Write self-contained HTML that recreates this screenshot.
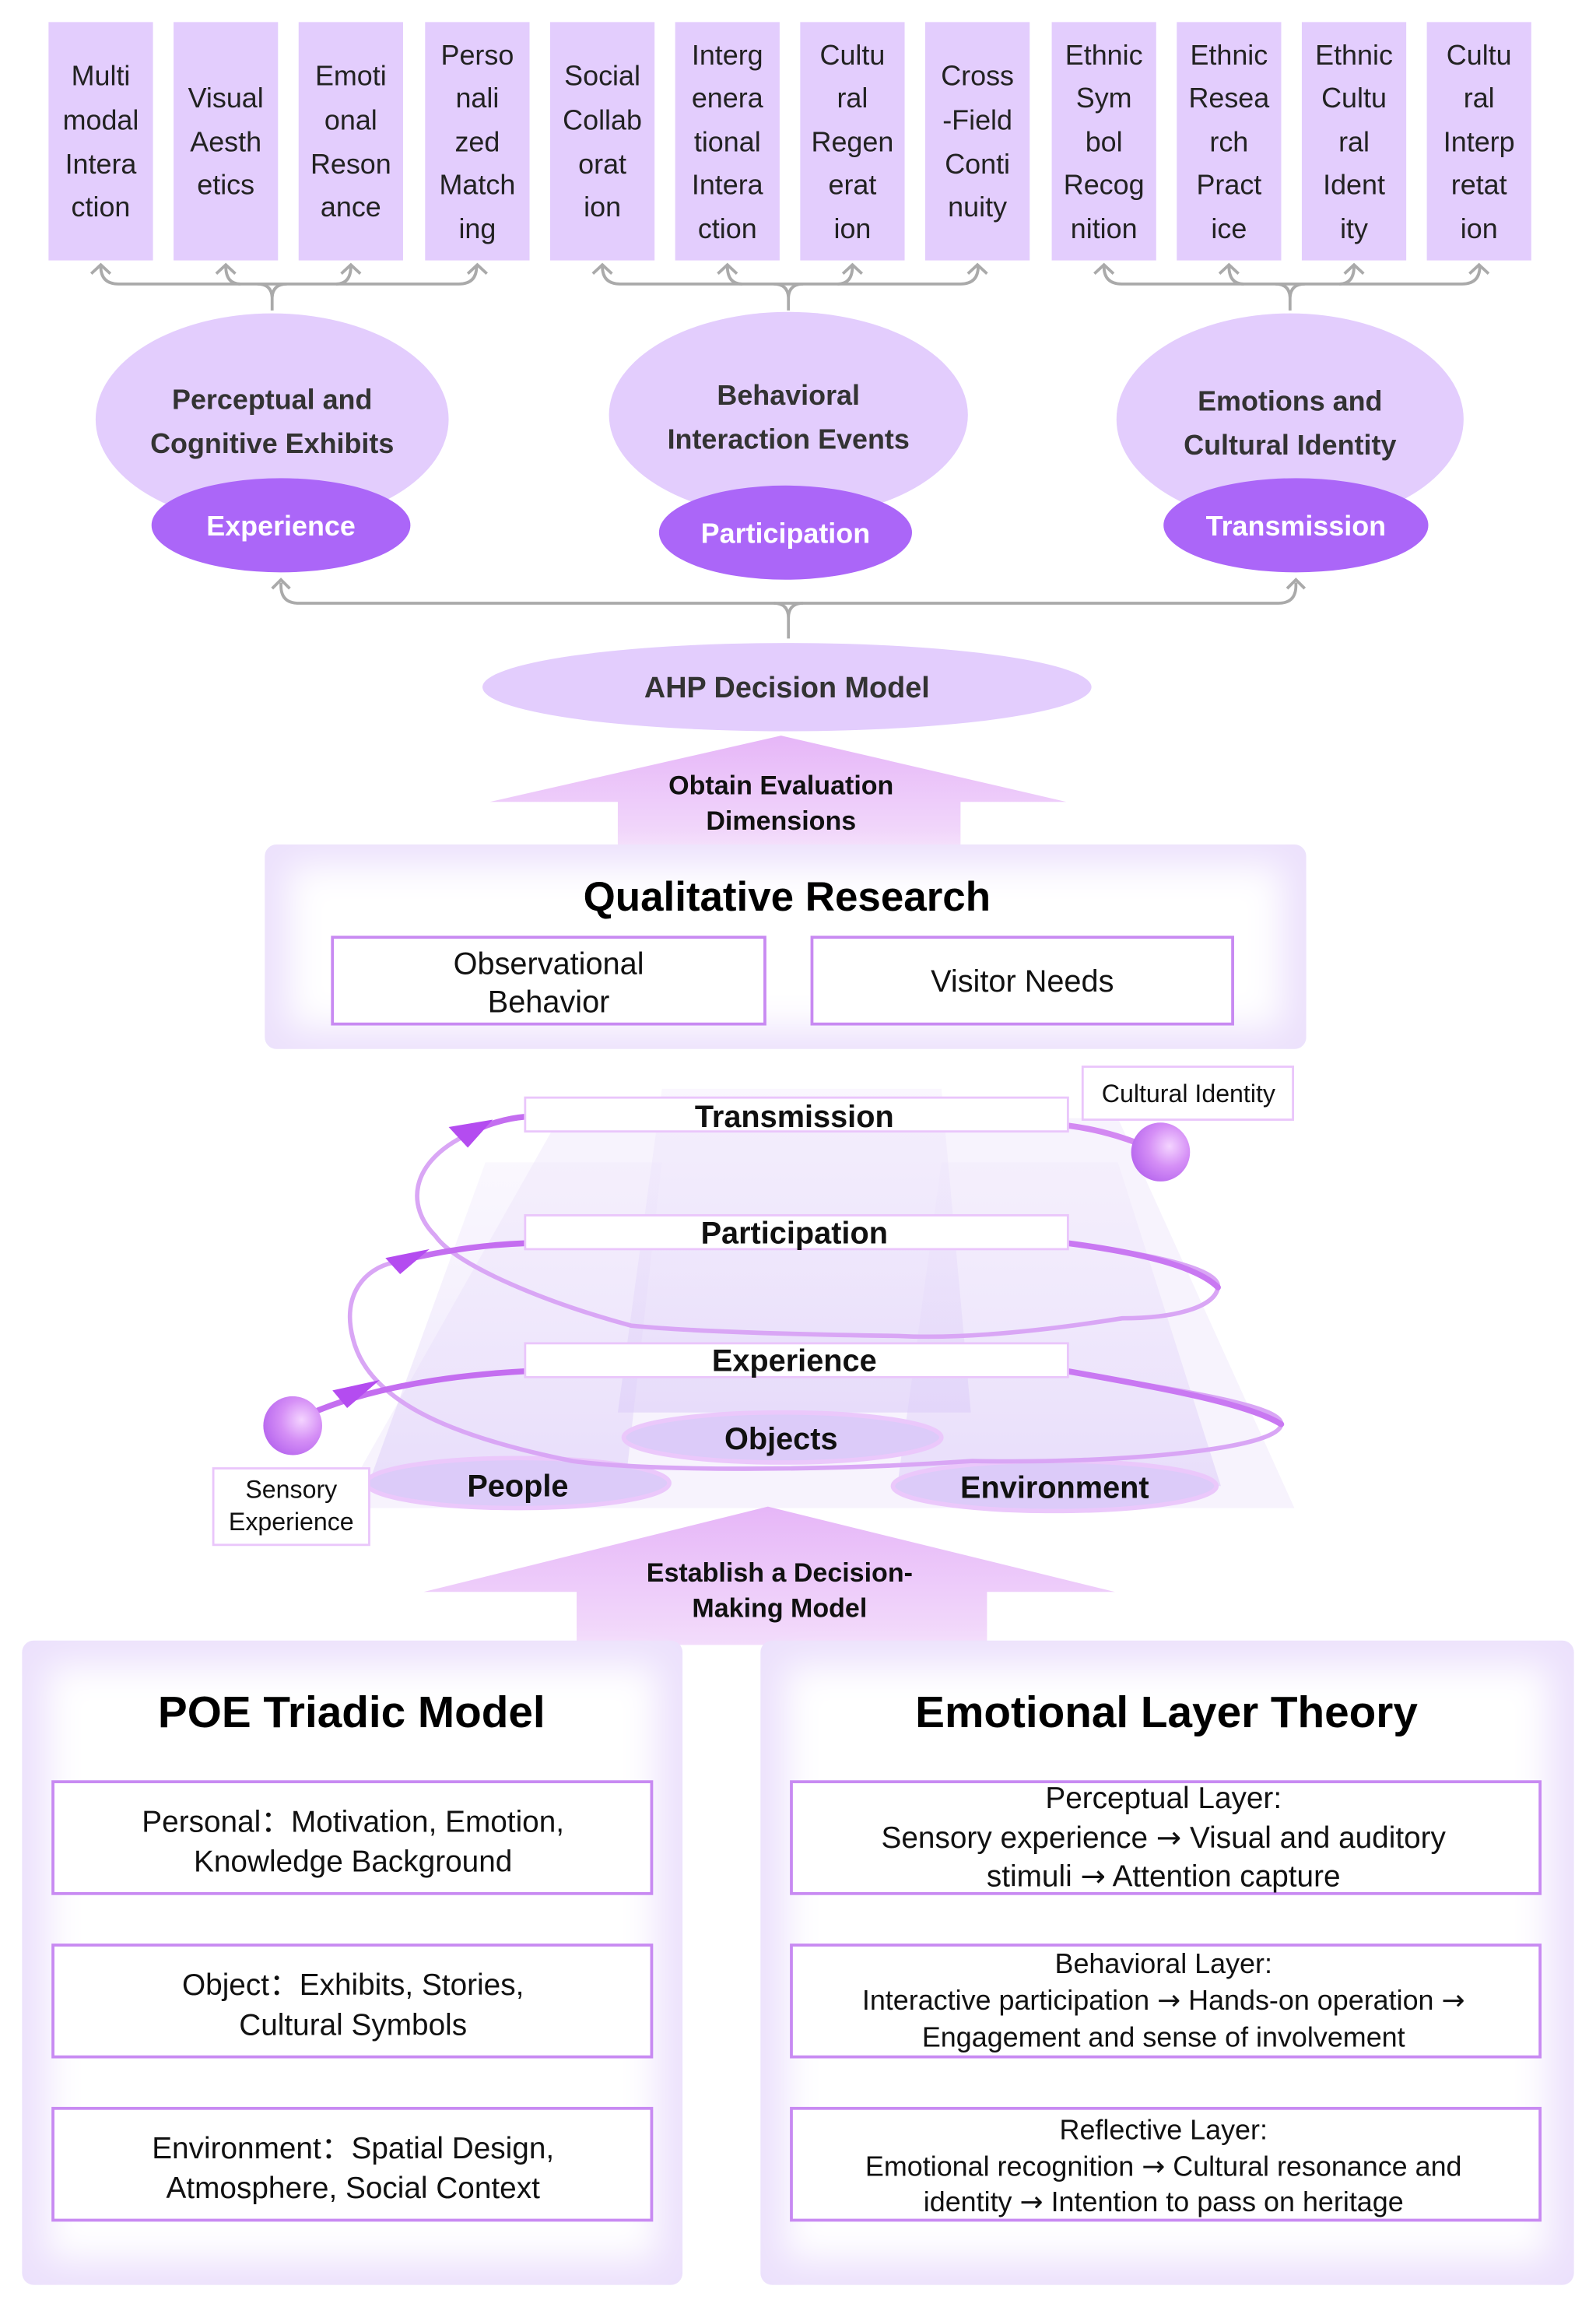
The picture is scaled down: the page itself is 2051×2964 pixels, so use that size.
<!DOCTYPE html>
<html><head><meta charset="utf-8"><style>html,body{margin:0;padding:0;background:#fff}svg{display:block}text{font-family:"Liberation Sans",sans-serif}.ar{font-family:"DejaVu Sans",sans-serif}</style></head><body>
<svg width="2051" height="2964" viewBox="0 0 1085 1568" xmlns="http://www.w3.org/2000/svg">
<defs>
<linearGradient id="arr" x1="0" y1="0" x2="0" y2="1"><stop offset="0" stop-color="#e6b6f8"/><stop offset="1" stop-color="#f3dcfb"/></linearGradient>
<filter id="blur" x="-20%" y="-20%" width="140%" height="140%"><feGaussianBlur stdDeviation="12"/></filter>
<radialGradient id="sph" cx="0.65" cy="0.4" r="0.7"><stop offset="0" stop-color="#f4d4ff"/><stop offset="0.5" stop-color="#d58ff6"/><stop offset="1" stop-color="#b665ee"/></radialGradient>
<linearGradient id="beam" x1="0" y1="0" x2="0" y2="1"><stop offset="0" stop-color="#ede4fb" stop-opacity="0.5"/><stop offset="1" stop-color="#d9c8f8" stop-opacity="0.9"/></linearGradient>
</defs>
<rect width="1085" height="1568" fill="#fff"/>

<g fill="#e3cdfd">
<rect x="33" y="15" width="71" height="162"/><rect x="118" y="15" width="71" height="162"/><rect x="203" y="15" width="71" height="162"/><rect x="289" y="15" width="71" height="162"/><rect x="374" y="15" width="71" height="162"/><rect x="459" y="15" width="71" height="162"/><rect x="544" y="15" width="71" height="162"/><rect x="629" y="15" width="71" height="162"/><rect x="715" y="15" width="71" height="162"/><rect x="800" y="15" width="71" height="162"/><rect x="885" y="15" width="71" height="162"/><rect x="970" y="15" width="71" height="162"/>
</g>
<g font-size="19" fill="#222" text-anchor="middle">
<text x="68.5" y="58">Multi</text><text x="68.5" y="88">modal</text><text x="68.5" y="118">Intera</text><text x="68.5" y="147">ction</text>
<text x="153.5" y="73">Visual</text><text x="153.5" y="103">Aesth</text><text x="153.5" y="132">etics</text>
<text x="238.5" y="58">Emoti</text><text x="238.5" y="88">onal</text><text x="238.5" y="118">Reson</text><text x="238.5" y="147">ance</text>
<text x="324.5" y="44">Perso</text><text x="324.5" y="73">nali</text><text x="324.5" y="103">zed</text><text x="324.5" y="132">Match</text><text x="324.5" y="162">ing</text>
<text x="409.5" y="58">Social</text><text x="409.5" y="88">Collab</text><text x="409.5" y="118">orat</text><text x="409.5" y="147">ion</text>
<text x="494.5" y="44">Interg</text><text x="494.5" y="73">enera</text><text x="494.5" y="103">tional</text><text x="494.5" y="132">Intera</text><text x="494.5" y="162">ction</text>
<text x="579.5" y="44">Cultu</text><text x="579.5" y="73">ral</text><text x="579.5" y="103">Regen</text><text x="579.5" y="132">erat</text><text x="579.5" y="162">ion</text>
<text x="664.5" y="58">Cross</text><text x="664.5" y="88">-Field</text><text x="664.5" y="118">Conti</text><text x="664.5" y="147">nuity</text>
<text x="750.5" y="44">Ethnic</text><text x="750.5" y="73">Sym</text><text x="750.5" y="103">bol</text><text x="750.5" y="132">Recog</text><text x="750.5" y="162">nition</text>
<text x="835.5" y="44">Ethnic</text><text x="835.5" y="73">Resea</text><text x="835.5" y="103">rch</text><text x="835.5" y="132">Pract</text><text x="835.5" y="162">ice</text>
<text x="920.5" y="44">Ethnic</text><text x="920.5" y="73">Cultu</text><text x="920.5" y="103">ral</text><text x="920.5" y="132">Ident</text><text x="920.5" y="162">ity</text>
<text x="1005.5" y="44">Cultu</text><text x="1005.5" y="73">ral</text><text x="1005.5" y="103">Interp</text><text x="1005.5" y="132">retat</text><text x="1005.5" y="162">ion</text>
</g>

<g fill="none" stroke="#aaa" stroke-width="2">
<path d="M68.5,181 q0,12 12,12 H312 q12,0 12,-12"/><path d="M153.5,181 q0,12 10,12"/><path d="M238.5,181 q0,12 -10,12"/><path d="M175,193 q10,0 10,10 v8 M195,193 q-10,0 -10,10"/>
<path d="M409.5,181 q0,12 12,12 H653 q12,0 12,-12"/><path d="M494.5,181 q0,12 10,12"/><path d="M579.5,181 q0,12 -10,12"/><path d="M526,193 q10,0 10,10 v8 M546,193 q-10,0 -10,10"/>
<path d="M750.5,181 q0,12 12,12 H994 q12,0 12,-12"/><path d="M835.5,181 q0,12 10,12"/><path d="M920.5,181 q0,12 -10,12"/><path d="M867,193 q10,0 10,10 v8 M887,193 q-10,0 -10,10"/>
<path d="M191,396 v2 q0,12 12,12 H869 q12,0 12,-12 v-2"/><path d="M526,410 q10,0 10,10 v14 M546,410 q-10,0 -10,10"/>
<path d="M62,186 l6.5,-6 6.5,6 M147,186 l6.5,-6 6.5,6 M232,186 l6.5,-6 6.5,6 M318,186 l6.5,-6 6.5,6 M403,186 l6.5,-6 6.5,6 M488,186 l6.5,-6 6.5,6 M573,186 l6.5,-6 6.5,6 M658,186 l6.5,-6 6.5,6 M744,186 l6.5,-6 6.5,6 M829,186 l6.5,-6 6.5,6 M914,186 l6.5,-6 6.5,6 M999,186 l6.5,-6 6.5,6 M185,400 l6,-6 6,6 M875,400 l6,-6 6,6"/>
</g>

<ellipse cx="185" cy="285" rx="120" ry="72" fill="#e3cdfd"/>
<ellipse cx="536" cy="282" rx="122" ry="70" fill="#e3cdfd"/>
<ellipse cx="877" cy="285" rx="118" ry="72" fill="#e3cdfd"/>
<ellipse cx="191" cy="357" rx="88" ry="32" fill="#ab66f8"/>
<ellipse cx="534" cy="362" rx="86" ry="32" fill="#ab66f8"/>
<ellipse cx="881" cy="357" rx="90" ry="32" fill="#ab66f8"/>
<g font-size="19" font-weight="bold" fill="#333" text-anchor="middle">
<text x="185" y="278">Perceptual and</text><text x="185" y="308">Cognitive Exhibits</text>
<text x="536" y="275">Behavioral</text><text x="536" y="305">Interaction Events</text>
<text x="877" y="279">Emotions and</text><text x="877" y="309">Cultural Identity</text>
</g>
<g font-size="19" font-weight="bold" fill="#fff" text-anchor="middle">
<text x="191" y="364">Experience</text><text x="534" y="369">Participation</text><text x="881" y="364">Transmission</text>
</g>

<ellipse cx="535" cy="467" rx="207" ry="30" fill="#e3cdfd"/>
<text x="535" y="474" font-size="20" font-weight="bold" fill="#333" text-anchor="middle">AHP Decision Model</text>

<polygon points="531,500 725,545 653,545 653,576 420,576 420,545 333,545" fill="url(#arr)"/>
<text x="531" y="540" font-size="18" font-weight="bold" fill="#111" text-anchor="middle">Obtain Evaluation</text>
<text x="531" y="564" font-size="18" font-weight="bold" fill="#111" text-anchor="middle">Dimensions</text>

<rect x="180" y="574" width="708" height="139" rx="8" fill="#ece1fc"/>
<rect x="196" y="588" width="676" height="111" rx="6" fill="#fff" filter="url(#blur)"/>
<text x="535" y="619" font-size="28" font-weight="bold" fill="#000" text-anchor="middle">Qualitative Research</text>
<rect x="226" y="637" width="294" height="59" fill="#fff" stroke="#c88af2" stroke-width="2"/>
<rect x="552" y="637" width="286" height="59" fill="#fff" stroke="#c88af2" stroke-width="2"/>
<g font-size="21" fill="#111" text-anchor="middle"><text x="373" y="662">Observational</text><text x="373" y="688">Behavior</text><text x="695" y="674">Visitor Needs</text></g>

<polygon points="380,760 760,760 880,1025 230,1025" fill="#f3eefc" opacity="0.7"/>
<polygon points="450,740 640,740 660,960 420,960" fill="url(#beam)" opacity="0.6"/>
<polygon points="330,790 450,790 425,1010 250,1010" fill="url(#beam)" opacity="0.55"/>
<polygon points="640,790 760,790 830,1010 610,1010" fill="url(#beam)" opacity="0.55"/>
<ellipse cx="532" cy="977" rx="108" ry="17" fill="#dccbf9" stroke="#ebc8fb" stroke-width="3"/>
<ellipse cx="352" cy="1008" rx="103" ry="17" fill="#dccbf9" stroke="#ebc8fb" stroke-width="3"/>
<ellipse cx="717" cy="1010" rx="110" ry="17" fill="#dccbf9" stroke="#ebc8fb" stroke-width="3"/>

<g fill="none" stroke-linecap="round">
<path d="M726,932 C800,945 872,955 871,968 C870,985 760,995 661,993 C560,1000 440,1000 389,993 C300,975 250,950 240,910 C232,880 248,862 268,858" stroke="#d9a6f5" stroke-width="3"/>
<path d="M726,845 C780,852 830,862 828,875 C826,888 800,896 763,896 C700,906 650,910 611,908 C540,907 470,905 429,901 C370,885 310,860 296,840 C276,820 278,790 318,771" stroke="#d9a6f5" stroke-width="3"/>
<path d="M726,765 C750,768 770,775 788,783" stroke="#d389f2" stroke-width="4"/>
<path d="M318,771 C330,764 345,760 357,759" stroke="#c46ef0" stroke-width="4"/>
<path d="M268,858 C300,850 330,846 357,845" stroke="#c46ef0" stroke-width="4"/>
<path d="M198,967 C240,945 300,935 357,932" stroke="#c46ef0" stroke-width="4"/>
<path d="M726,932 C800,945 850,955 871,968" stroke="#c978f2" stroke-width="4"/>
<path d="M726,845 C780,852 815,862 828,875" stroke="#c978f2" stroke-width="4"/>
</g>
<g fill="#b44cf0">
<polygon points="305,766 335,761 318,780"/><polygon points="262,855 292,849 272,866"/><polygon points="226,945 258,938 236,957"/>
</g>
<circle cx="789" cy="783" r="20" fill="url(#sph)"/>
<circle cx="199" cy="969" r="20" fill="url(#sph)"/>

<g fill="#fff" stroke="#eac6fb" stroke-width="1.5">
<rect x="357" y="746" width="369" height="23"/><rect x="357" y="826" width="369" height="23"/><rect x="357" y="913" width="369" height="23"/>
<rect x="736" y="725" width="143" height="36"/><rect x="145" y="998" width="106" height="52"/>
</g>
<g font-size="21" font-weight="bold" fill="#111" text-anchor="middle">
<text x="540" y="766">Transmission</text><text x="540" y="845">Participation</text><text x="540" y="932">Experience</text>
<text x="531" y="985">Objects</text><text x="352" y="1017">People</text><text x="717" y="1018">Environment</text>
</g>
<g font-size="17" fill="#111" text-anchor="middle"><text x="808" y="749">Cultural Identity</text><text x="198" y="1018">Sensory</text><text x="198" y="1040">Experience</text></g>

<polygon points="522,1024 758,1082 671,1082 671,1118 392,1118 392,1082 288,1082" fill="url(#arr)"/>
<text x="530" y="1075" font-size="18" font-weight="bold" fill="#111" text-anchor="middle">Establish a Decision-</text>
<text x="530" y="1099" font-size="18" font-weight="bold" fill="#111" text-anchor="middle">Making Model</text>

<rect x="15" y="1115" width="449" height="438" rx="8" fill="#ece1fc"/>
<rect x="32" y="1132" width="415" height="404" rx="6" fill="#fff" filter="url(#blur)"/>
<rect x="517" y="1115" width="553" height="438" rx="8" fill="#ece1fc"/>
<rect x="534" y="1132" width="519" height="404" rx="6" fill="#fff" filter="url(#blur)"/>
<text x="239" y="1174" font-size="30" font-weight="bold" fill="#000" text-anchor="middle">POE Triadic Model</text>
<text x="793" y="1174" font-size="30" font-weight="bold" fill="#000" text-anchor="middle">Emotional Layer Theory</text>
<g fill="#fff" stroke="#c88af2" stroke-width="2">
<rect x="36" y="1211" width="407" height="76"/><rect x="36" y="1322" width="407" height="76"/><rect x="36" y="1433" width="407" height="76"/>
<rect x="538" y="1211" width="509" height="76"/><rect x="538" y="1322" width="509" height="76"/><rect x="538" y="1433" width="509" height="76"/>
</g>
<g font-size="20.5" fill="#111" text-anchor="middle">
<text x="240" y="1245">Personal：Motivation, Emotion,</text><text x="240" y="1272">Knowledge Background</text>
<text x="240" y="1356">Object：Exhibits, Stories,</text><text x="240" y="1383">Cultural Symbols</text>
<text x="240" y="1467">Environment：Spatial Design,</text><text x="240" y="1494">Atmosphere, Social Context</text>
<text x="791" y="1229">Perceptual Layer:</text><text x="791" y="1256">Sensory experience <tspan class="ar">→</tspan> Visual and auditory</text><text x="791" y="1282">stimuli <tspan class="ar">→</tspan> Attention capture</text>
</g>
<g font-size="19" fill="#111" text-anchor="middle">
<text x="791" y="1341">Behavioral Layer:</text><text x="791" y="1366">Interactive participation <tspan class="ar">→</tspan> Hands-on operation <tspan class="ar">→</tspan></text><text x="791" y="1391">Engagement and sense of involvement</text>
<text x="791" y="1454">Reflective Layer:</text><text x="791" y="1479">Emotional recognition <tspan class="ar">→</tspan> Cultural resonance and</text><text x="791" y="1503">identity <tspan class="ar">→</tspan> Intention to pass on heritage</text>
</g>
</svg>
</body></html>
